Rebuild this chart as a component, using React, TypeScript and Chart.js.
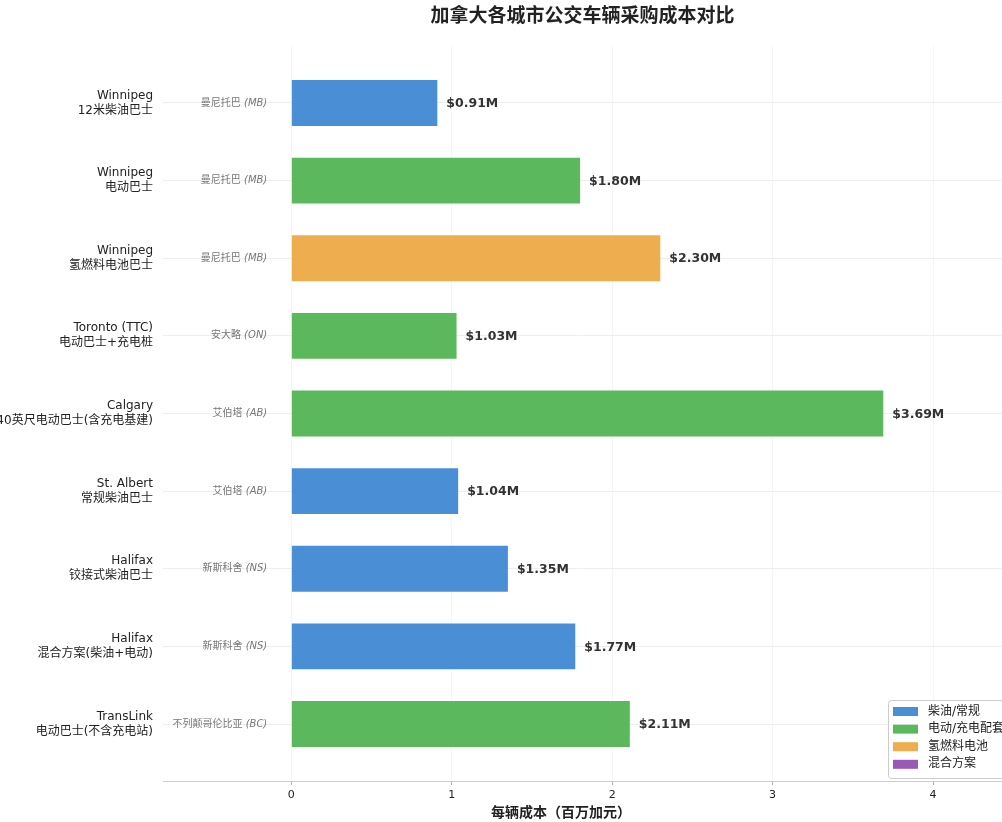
import React, { useEffect, useRef } from 'react';
import { Chart, ChartConfiguration, Plugin, registerables } from 'chart.js';

Chart.register(...registerables);

// Data
const cityLabels: string[][] = [
  ['Winnipeg', '12米柴油巴士'],
  ['Winnipeg', '电动巴士'],
  ['Winnipeg', '氢燃料电池巴士'],
  ['Toronto (TTC)', '电动巴士+充电桩'],
  ['Calgary', '40英尺电动巴士(含充电基建)'],
  ['St. Albert', '常规柴油巴士'],
  ['Halifax', '铰接式柴油巴士'],
  ['Halifax', '混合方案(柴油+电动)'],
  ['TransLink', '电动巴士(不含充电站)'],
];
const provinces = ['曼尼托巴', '曼尼托巴', '曼尼托巴', '安大略', '艾伯塔', '艾伯塔', '新斯科舍', '新斯科舍', '不列颠哥伦比亚'];
const provinceCodes = ['MB', 'MB', 'MB', 'ON', 'AB', 'AB', 'NS', 'NS', 'BC'];
const costs = [0.91, 1.8, 2.3, 1.03, 3.69, 1.04, 1.35, 1.77, 2.11];
const busTypes = ['diesel', 'electric', 'hydrogen', 'electric', 'electric', 'diesel', 'diesel', 'diesel', 'electric'];

const typeKeys = ['diesel', 'electric', 'hydrogen', 'hybrid'];
const typeNames = ['柴油/常规', '电动/充电配套', '氢燃料电池', '混合方案'];
const typeColors = ['#4a8fd6', '#5cb85c', '#eeae50', '#9b59b6'];
const xTickValues = [0, 1, 2, 3, 4];

const FONT = '"DejaVu Sans", "Noto Sans CJK SC", sans-serif';

// value labels, province labels, x title, legend
const annotations: Plugin<'bar'> = {
  id: 'annotations',
  afterDatasetsDraw(chart) {
    const { ctx } = chart;
    const xs = chart.scales.x;
    const ys = chart.scales.y;
    ctx.save();
    ctx.textBaseline = 'middle';
    costs.forEach((v, i) => {
      const py = ys.getPixelForValue(i);
      ctx.font = `bold 12.5px ${FONT}`;
      ctx.fillStyle = '#333';
      ctx.textAlign = 'left';
      ctx.fillText(`$${v.toFixed(2)}M`, xs.getPixelForValue(v) + 9, py + 1);

      const right = xs.getPixelForValue(-0.15);
      const code = `(${provinceCodes[i]})`;
      ctx.font = `italic 10px ${FONT}`;
      const cw = ctx.measureText(code).width;
      ctx.fillStyle = '#777';
      ctx.textAlign = 'right';
      ctx.fillText(code, right, py);
      ctx.font = `10px ${FONT}`;
      ctx.fillText(provinces[i] + ' ', right - cw, py);
    });

    // x axis title
    ctx.font = `bold 14px ${FONT}`;
    ctx.fillStyle = '#222';
    ctx.textAlign = 'center';
    ctx.fillText('每辆成本（百万加元）', 561, 813);
    ctx.restore();
  },
  afterDraw(chart) {
    const { ctx } = chart;
    ctx.save();
    ctx.fillStyle = 'rgba(255,255,255,0.92)';
    ctx.strokeStyle = '#cccccc';
    ctx.lineWidth = 1;
    ctx.beginPath();
    ctx.roundRect(888.5, 700.5, 130, 78, 3);
    ctx.fill();
    ctx.stroke();
    ctx.textBaseline = 'middle';
    ctx.textAlign = 'left';
    typeNames.forEach((name, k) => {
      const cy = 711.5 + k * 17.6;
      ctx.fillStyle = typeColors[k];
      ctx.fillRect(893, cy - 4.5, 25, 9);
      ctx.fillStyle = '#222';
      ctx.font = `12px ${FONT}`;
      ctx.fillText(name, 928, cy);
    });
    ctx.restore();
  },
};

const App: React.FC = () => {
  const canvasRef = useRef<HTMLCanvasElement | null>(null);
  const chartRef = useRef<Chart | null>(null);

  useEffect(() => {
    document.body.style.margin = '0';
    if (!canvasRef.current) return;
    if (chartRef.current) chartRef.current.destroy();

    const config: ChartConfiguration<'bar'> = {
      type: 'bar',
      data: {
        datasets: [
          {
            data: costs.map((v, i) => ({ x: v, y: i })) as any,
            backgroundColor: busTypes.map((t) => typeColors[typeKeys.indexOf(t)]),
            borderWidth: 0,
            barPercentage: 0.59,
            categoryPercentage: 1,
          },
        ],
      },
      options: {
        indexAxis: 'y',
        responsive: true,
        maintainAspectRatio: false,
        animation: false,
        layout: { padding: 0 },
        plugins: {
          legend: { display: false },
          tooltip: { enabled: false },
          title: {
            display: true,
            text: '加拿大各城市公交车辆采购成本对比',
            fullSize: false,
            color: '#222',
            font: { family: FONT, size: 19, weight: 'bold' },
            padding: { top: 6, bottom: 17.2 },
          },
        },
        scales: {
          x: {
            type: 'linear',
            min: -0.8,
            max: 4.43,
            afterBuildTicks: (axis) => {
              axis.ticks = xTickValues.map((value) => ({ value }));
            },
            afterFit: (axis) => {
              axis.height = 41;
            },
            grid: {
              color: '#f5f5f5',
              tickColor: '#aaaaaa',
              tickLength: 4,
            },
            border: { display: true, color: '#cccccc' },
            ticks: {
              color: '#222',
              padding: 4,
              font: { family: FONT, size: 11 },
              callback: (v) => String(v),
            },
          },
          y: {
            type: 'linear',
            reverse: true,
            offset: false,
            min: -0.734,
            max: 8.734,
            afterBuildTicks: (axis) => {
              axis.ticks = cityLabels.map((_, i) => ({ value: i }));
            },
            afterFit: (axis) => {
              axis.width = 163;
            },
            grid: { color: '#eeeeee', drawTicks: false, offset: false },
            border: { display: false },
            ticks: {
              color: '#222',
              padding: 10,
              font: { family: FONT, size: 12, lineHeight: 1.25 },
              callback: (v) => cityLabels[Number(v)],
            },
          },
        },
      },
      plugins: [annotations],
    };

    chartRef.current = new Chart(canvasRef.current, config);
    return () => {
      if (chartRef.current) {
        chartRef.current.destroy();
        chartRef.current = null;
      }
    };
  }, []);

  return (
    <div style={{ width: 1002, height: 822, position: 'relative', background: '#fff' }}>
      <canvas ref={canvasRef} />
    </div>
  );
};

export default App;
